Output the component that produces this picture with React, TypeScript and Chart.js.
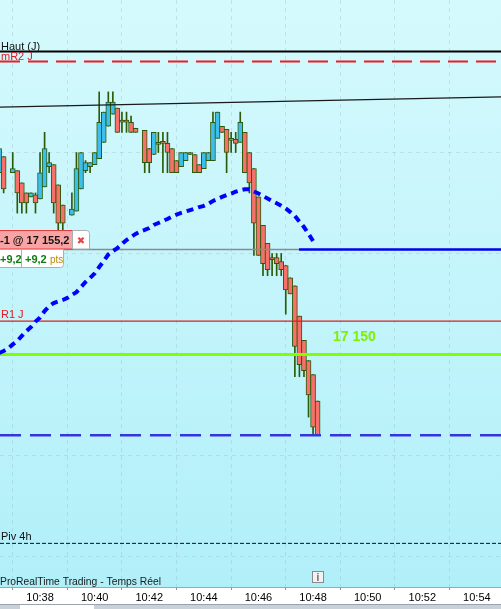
import React, { useEffect, useRef } from "react";
import { Chart, registerables } from "chart.js";

Chart.register(...registerables);

// ---- data (10-second candles) ----
const candleTimes = [
  "10:36:30", "10:36:40", "10:36:50", "10:37:00", "10:37:10", "10:37:20", "10:37:30", "10:37:40", "10:37:50",
  "10:38:00", "10:38:10", "10:38:20", "10:38:30", "10:38:40", "10:38:50", "10:39:00", "10:39:10", "10:39:20",
  "10:39:30", "10:39:40", "10:39:50", "10:40:00", "10:40:10", "10:40:20", "10:40:30", "10:40:40", "10:40:50",
  "10:41:00", "10:41:10", "10:41:20", "10:41:30", "10:41:40", "10:41:50", "10:42:00", "10:42:10", "10:42:20",
  "10:42:30", "10:42:40", "10:42:50", "10:43:00", "10:43:10", "10:43:20", "10:43:30", "10:43:40", "10:43:50",
  "10:44:00", "10:44:10", "10:44:20", "10:44:30", "10:44:40", "10:44:50", "10:45:00", "10:45:10", "10:45:20",
  "10:45:30", "10:45:40", "10:45:50", "10:46:00", "10:46:10", "10:46:20", "10:46:30", "10:46:40", "10:46:50",
  "10:47:00", "10:47:10", "10:47:20", "10:47:30", "10:47:40", "10:47:50", "10:48:00", "10:48:10",
];

const opens: (number | null)[] = [
  17159.0, 17159.8, null, 17159.0, 17159.1, 17158.5, 17158.0, 17157.8, 17157.9,
  17157.7, 17158.3, 17159.3, 17159.4, 17158.4, 17157.4, null, 17156.9, 17157.1,
  17158.2, 17159.1, 17159.3, 17159.4, 17159.7, 17160.5, 17161.3, 17161.9, 17162.2,
  17161.6, 17161.6, 17161.5, 17161.2, null, 17161.1, 17160.2, 17159.9, 17160.5,
  17160.45, 17160.45, 17160.2, 17159.6, 17159.3, 17159.6, 17159.9, 17159.9, 17159.4,
  17159.2, 17159.6, 17159.6, 17160.7, 17161.3, 17161.15, 17160.6, 17160.65, 17160.5,
  17161.0, 17160.0, 17159.2, 17157.8, 17156.4, 17155.5, 17154.8, 17154.8, 17154.6,
  17154.4, 17153.8, 17153.4, 17151.9, 17150.7, 17149.7, 17149.0, 17147.7,
];
const highs: (number | null)[] = [
  17160.7, 17159.8, null, 17160.0, 17159.1, 17158.5, 17158.0, 17158.0, 17158.0,
  17160.0, 17161.0, 17160.0, 17159.4, 17158.4, 17157.4, null, 17158.0, 17160.0,
  17160.0, 17159.6, 17159.5, 17160.0, 17163.0, 17162.0, 17163.0, 17163.0, 17162.2,
  17162.0, 17162.0, 17161.8, 17161.2, null, 17161.1, 17160.2, 17161.0, 17161.0,
  17161.0, 17161.0, 17160.2, 17159.6, 17160.0, 17160.0, 17160.0, 17159.9, 17159.4,
  17160.0, 17160.0, 17162.0, 17162.0, 17161.3, 17161.15, 17161.0, 17161.0, 17162.0,
  17161.0, 17160.0, 17159.2, 17157.8, 17156.4, 17155.5, 17155.0, 17155.0, 17155.0,
  17154.4, 17153.8, 17153.4, 17151.9, 17150.7, 17149.7, 17149.0, 17147.7,
];
const lows: (number | null)[] = [
  17158.9, 17158.0, null, 17159.0, 17157.0, 17157.0, 17157.0, 17157.8, 17157.0,
  17157.7, 17158.3, 17159.0, 17157.0, 17156.1, 17156.1, null, 17156.9, 17157.1,
  17158.2, 17159.0, 17159.0, 17159.4, 17159.7, 17160.5, 17161.3, 17161.9, 17161.0,
  17161.0, 17161.0, 17161.0, 17161.0, null, 17159.0, 17159.0, 17159.9, 17160.0,
  17159.0, 17159.0, 17159.0, 17159.0, 17159.3, 17159.6, 17159.9, 17159.0, 17159.0,
  17159.2, 17159.6, 17159.6, 17160.7, 17161.0, 17159.0, 17160.0, 17160.0, 17160.5,
  17159.0, 17158.0, 17154.9, 17154.9, 17153.9, 17153.9, 17153.9, 17153.9, 17153.9,
  17152.0, 17153.0, 17148.9, 17148.9, 17148.9, 17146.9, 17146.0, 17146.0,
];
const closes: (number | null)[] = [
  17160.2, 17158.2, null, 17159.2, 17158.0, 17157.5, 17157.5, 17158.0, 17157.5,
  17159.0, 17160.2, 17159.5, 17157.5, 17156.5, 17156.5, null, 17157.2, 17159.2,
  17160.0, 17159.5, 17159.5, 17160.0, 17161.5, 17162.0, 17162.5, 17162.5, 17161.0,
  17161.5, 17161.5, 17161.0, 17161.0, null, 17159.5, 17159.5, 17161.0, 17160.4,
  17160.45, 17160.0, 17159.0, 17159.0, 17160.0, 17160.0, 17160.0, 17159.0, 17159.0,
  17160.0, 17160.0, 17161.5, 17162.0, 17161.0, 17160.0, 17160.7, 17160.45, 17161.5,
  17159.0, 17158.5, 17156.5, 17154.9, 17154.5, 17154.2, 17154.7, 17154.5, 17154.2,
  17153.2, 17153.0, 17150.4, 17149.5, 17149.2, 17148.0, 17146.4, 17146.0,
];

// dotted moving average, one value per candle time from 10:36:30 to 10:48:00
const maValues = [
  17150.07, 17150.17, 17150.30, 17150.50, 17150.67, 17150.92, 17151.16, 17151.36, 17151.63, 17151.83,
  17152.15, 17152.38, 17152.55, 17152.63, 17152.70, 17152.80, 17152.95, 17153.09, 17153.34, 17153.59,
  17153.79, 17154.01, 17154.33, 17154.63, 17154.95, 17155.12, 17155.27, 17155.47, 17155.67, 17155.82,
  17155.97, 17156.09, 17156.17, 17156.26, 17156.41, 17156.51, 17156.61, 17156.71, 17156.83, 17156.93,
  17157.01, 17157.08, 17157.15, 17157.22, 17157.30, 17157.36, 17157.47, 17157.60, 17157.70, 17157.80,
  17157.89, 17157.97, 17158.06, 17158.13, 17158.18, 17158.18, 17158.07, 17157.97, 17157.85, 17157.72,
  17157.60, 17157.49, 17157.37, 17157.23, 17157.05, 17156.86, 17156.58, 17156.31, 17155.97, 17155.62,
];

// horizontal levels
const levelHaut = 17165.0;
const levelMR2 = 17164.5;
const trendStart = 17162.25;
const trendEnd = 17162.75;
const levelEntry = 17155.2;
const entryLineSplit = "10:47:29";
const levelR1 = 17151.65;
const level17150 = 17150.0;
const levelLast = 17146.0;
const levelPiv4h = 17140.65;

const xStartTime = "10:36:32";
const xEndTime = "10:54:53";
const yMin = 17138.49;
const yMax = 17167.55;
const tickStepMinutes = 2;
const gridStepPoints = 5;

const toMin = (t: string) => {
  const [h, m, s] = t.split(":").map(Number);
  return h * 60 + m + (s || 0) / 60;
};

const RED = "#f7706a";
const BLUE = "#3dbfee";
const EDGE = "#2b5a08";
const GRID = "rgba(150,185,195,0.35)";

const decorPlugin = {
  id: "decor",
  beforeDraw(chart: any) {
    const { ctx, chartArea: a, width, height } = chart;
    ctx.save();
    ctx.fillStyle = "#ffffff";
    ctx.fillRect(0, 0, width, height);
    const g = ctx.createLinearGradient(0, a.top, 0, a.bottom);
    g.addColorStop(0, "#d5fafd");
    g.addColorStop(1, "#b1eff9");
    ctx.fillStyle = g;
    ctx.fillRect(a.left, a.top, a.right - a.left, a.bottom - a.top);
    ctx.restore();
  },
  afterDraw(chart: any) {
    const { ctx, chartArea: a, width, height } = chart;
    const ys = chart.scales.y;
    const py = (v: number) => ys.getPixelForValue(v);
    ctx.save();
    const F = "'Liberation Sans', Arial, sans-serif";
    ctx.textBaseline = "alphabetic";
    ctx.textAlign = "left";

    // level labels
    ctx.font = `11px ${F}`;
    ctx.fillStyle = "#111";
    ctx.fillText("Haut (J)", 1, py(levelHaut) - 2);
    ctx.fillStyle = "#e8141e";
    ctx.fillText("mR2 J", 1, py(levelMR2) - 2);
    ctx.fillText("R1 J", 1, py(levelR1) - 3);
    ctx.fillStyle = "#111";
    ctx.fillText("Piv 4h", 1, py(levelPiv4h) - 3);

    ctx.font = `bold 14px ${F}`;
    ctx.fillStyle = "#7ef000";
    ctx.fillText("17 150", 333, py(level17150) - 14);

    // order box
    const ye = Math.round(py(levelEntry));
    ctx.lineWidth = 1;
    ctx.fillStyle = "#f9a4a4";
    ctx.strokeStyle = "#e23c3c";
    ctx.fillRect(-2, ye - 18.5, 74.5, 18.5);
    ctx.strokeRect(-2, ye - 18.5, 74.5, 18.5);
    ctx.fillStyle = "#ffffff";
    ctx.strokeStyle = "#a8b0b4";
    ctx.beginPath();
    ctx.moveTo(72.5, ye - 18.5);
    ctx.lineTo(86.5, ye - 18.5);
    ctx.quadraticCurveTo(89.5, ye - 18.5, 89.5, ye - 15.5);
    ctx.lineTo(89.5, ye);
    ctx.lineTo(72.5, ye);
    ctx.closePath();
    ctx.fill();
    ctx.stroke();
    ctx.font = `bold 11px ${F}`;
    ctx.fillStyle = "#141414";
    ctx.fillText("-1 @ 17 155,2", 0, ye - 5);
    ctx.font = `10px 'DejaVu Sans', sans-serif`;
    ctx.fillStyle = "#e04848";
    ctx.textAlign = "center";
    ctx.fillText("\u2716", 81, ye - 5.5);
    ctx.textAlign = "left";

    ctx.fillStyle = "#ffffff";
    ctx.strokeStyle = "#a8b0b4";
    ctx.beginPath();
    ctx.moveTo(-2, ye + 0.5);
    ctx.lineTo(63.5, ye + 0.5);
    ctx.lineTo(63.5, ye + 15.5);
    ctx.quadraticCurveTo(63.5, ye + 18.5, 60.5, ye + 18.5);
    ctx.lineTo(-2, ye + 18.5);
    ctx.closePath();
    ctx.fill();
    ctx.stroke();
    ctx.beginPath();
    ctx.moveTo(21.5, ye + 0.5);
    ctx.lineTo(21.5, ye + 18.5);
    ctx.stroke();
    ctx.font = `bold 11px ${F}`;
    ctx.fillStyle = "#0b7d12";
    ctx.fillText("+9,2", 0, ye + 14);
    ctx.fillText("+9,2", 25, ye + 14);
    ctx.font = `10px ${F}`;
    ctx.fillStyle = "#b98a00";
    ctx.fillText("pts", 50, ye + 14);

    // footer text (compressed to the reference width)
    ctx.font = `11px ${F}`;
    ctx.fillStyle = "#1a1a1a";
    const footer = "ProRealTime Trading - Temps Réel";
    const fw = ctx.measureText(footer).width;
    ctx.save();
    ctx.translate(0, a.bottom - 2);
    ctx.scale(161 / fw, 1);
    ctx.fillText(footer, 0, 0);
    ctx.restore();

    // info icon
    ctx.fillStyle = "#f2f2f2";
    ctx.strokeStyle = "#8a8a8a";
    ctx.fillRect(312.5, a.bottom - 15.5, 11, 11);
    ctx.strokeRect(312.5, a.bottom - 15.5, 11, 11);
    ctx.font = `bold 10px ${F}`;
    ctx.fillStyle = "#666";
    ctx.textAlign = "center";
    ctx.fillText("i", 318, a.bottom - 6.5);
    ctx.textAlign = "left";

    // bottom scroll strip
    ctx.fillStyle = "#c8d0d9";
    ctx.fillRect(0, height - 4, width, 4);
    ctx.fillStyle = "#ffffff";
    ctx.fillRect(20, height - 4, 74, 4);
    ctx.strokeStyle = "#9aa4ae";
    ctx.beginPath();
    ctx.moveTo(0, height - 4.5);
    ctx.lineTo(width, height - 4.5);
    ctx.stroke();
    ctx.restore();
  },
};

export default function App() {
  const ref = useRef<HTMLCanvasElement | null>(null);

  useEffect(() => {
    if (!ref.current) return;
    const xMin = toMin(xStartTime);
    const xMax = toMin(xEndTime);
    const xSplit = toMin(entryLineSplit);

    const bodies: any[] = [];
    const wicks: any[] = [];
    candleTimes.forEach((t, i) => {
      const o = opens[i], h = highs[i], l = lows[i], c = closes[i];
      if (o == null || h == null || l == null || c == null) return;
      const x = toMin(t);
      bodies.push({ x, y: [o, c] });
      wicks.push({ x, y: [l, h] });
    });
    const ma = maValues.map((v, i) => ({ x: toMin(candleTimes[i]), y: v }));

    const hline = (y1: number, y2: number, x1 = xMin, x2 = xMax) => [
      { x: x1, y: y1 },
      { x: x2, y: y2 },
    ];
    const lineDs = (label: string, data: any[], color: string, w: number, dash: number[] = [], order = 3) => ({
      type: "line" as const,
      label,
      data,
      borderColor: color,
      borderWidth: w,
      borderDash: dash,
      pointRadius: 0,
      fill: false,
      tension: 0,
      order,
    });

    const chart = new Chart(ref.current, {
      type: "bar",
      data: {
        datasets: [
          {
            type: "bar",
            label: "wicks",
            data: wicks,
            backgroundColor: EDGE,
            borderWidth: 0,
            barThickness: 1,
            grouped: false,
            order: 20,
          } as any,
          {
            type: "bar",
            label: "bodies",
            data: bodies,
            backgroundColor: (c: any) => (c.raw && c.raw.y[1] > c.raw.y[0] ? BLUE : RED),
            borderColor: EDGE,
            borderWidth: 1,
            borderSkipped: false,
            barThickness: 5,
            minBarLength: 2,
            grouped: false,
            order: 19,
          } as any,
          lineDs("Haut (J)", hline(levelHaut, levelHaut), "#000000", 2),
          lineDs("mR2 J", hline(levelMR2, levelMR2), "#ee1c24", 2, [20, 8]),
          lineDs("trend", hline(trendStart, trendEnd), "#1a1a1a", 1.3),
          lineDs("entry", hline(levelEntry, levelEntry, xMin, xSplit), "#8c8c8c", 1.5),
          lineDs("position", hline(levelEntry, levelEntry, xSplit, xMax), "#0000f0", 2.5),
          lineDs("R1 J", hline(levelR1, levelR1), "#e01c1c", 1.3),
          lineDs("17150", hline(level17150, level17150), "#80ff00", 3),
          lineDs("last", hline(levelLast, levelLast), "#3535e0", 2.5, [21, 9]),
          lineDs("Piv 4h", hline(levelPiv4h, levelPiv4h), "#111111", 1, [4, 2]),
          lineDs("MA", ma, "#0000ff", 4, [7, 5], 1),
        ],
      },
      options: {
        responsive: false,
        animation: false,
        devicePixelRatio: 1,
        layout: { padding: 0, autoPadding: false } as any,
        plugins: { legend: { display: false }, tooltip: { enabled: false } },
        scales: {
          x: {
            type: "linear",
            min: xMin,
            max: xMax,
            offset: false,
            ticks: {
              stepSize: tickStepMinutes,
              includeBounds: false,
              autoSkip: false,
              maxRotation: 0,
              padding: 1,
              color: "#000",
              font: { family: "'Liberation Sans', Arial, sans-serif", size: 11 },
              callback: (v: any) => {
                const h = Math.floor(v / 60);
                const m = Math.round(v - h * 60);
                return `${h}:${String(m).padStart(2, "0")}`;
              },
            },
            grid: {
              color: GRID,
              tickColor: "#8a949c",
              tickLength: 3,
              drawOnChartArea: true,
            },
            border: { display: true, color: "#9ea8b0", dash: [4, 4] },
            afterFit: (s: any) => {
              s.height = 22;
            },
          } as any,
          y: {
            type: "linear",
            position: "right",
            min: yMin,
            max: yMax,
            ticks: { display: false, stepSize: gridStepPoints, includeBounds: false },
            grid: { color: GRID, drawTicks: false },
            border: { display: false, dash: [4, 4] },
            afterFit: (s: any) => {
              s.width = 0;
            },
          } as any,
        },
      },
      plugins: [decorPlugin],
    });
    return () => chart.destroy();
  }, []);

  return (
    <div style={{ position: "absolute", left: 0, top: 0, width: 501, height: 609 }}>
      <canvas ref={ref} width={501} height={609} style={{ display: "block", width: 501, height: 609 }} />
    </div>
  );
}
